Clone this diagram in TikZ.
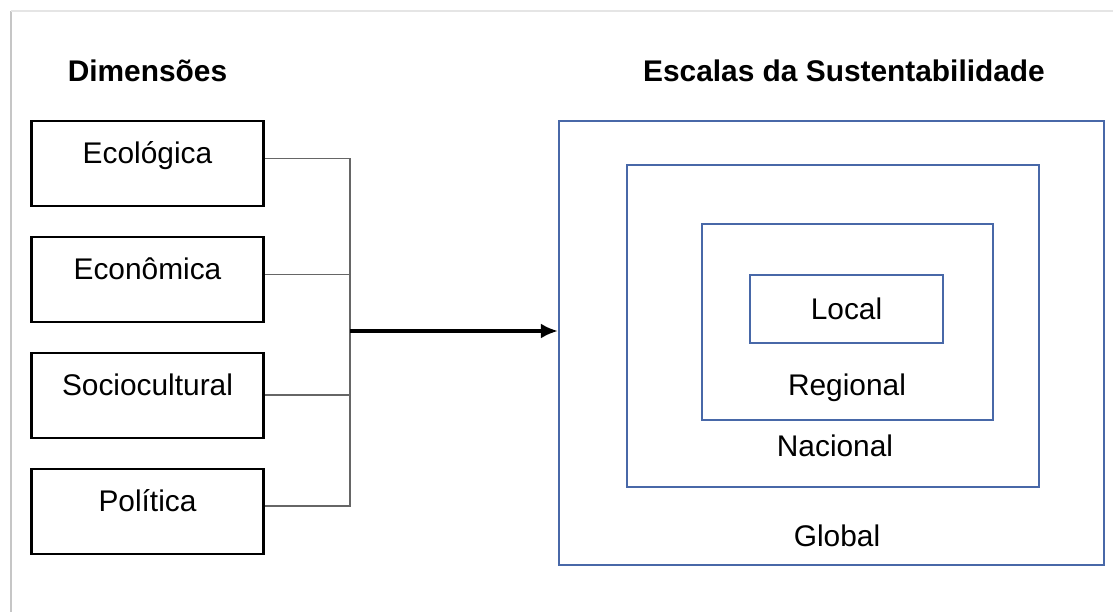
\documentclass[tikz,border=0pt]{standalone}
\usepackage{fontspec}
\setmainfont{Liberation Sans}
\usetikzlibrary{shapes, positioning, arrows.meta}
\definecolor{scaleblue}{RGB}{72,104,168}

\begin{document}
\begin{tikzpicture}[x=0.02cm, y=-0.02cm, semithick, node distance=2.32cm]
\tikzset{every node/.style={font=\fontsize{17}{20}\selectfont},
dim/.style={draw, rectangle, line width=1.6pt, minimum width=4.64cm, minimum height=1.7cm, text height=0.45cm, text depth=0.45cm},
title/.style={font=\fontsize{17}{20}\selectfont\bfseries},
esc/.style={draw=scaleblue, rectangle, line width=1.3pt, inner sep=0pt},
wire/.style={draw=black!60, line width=1.1pt},
feed/.style={draw=black, line width=1.9pt, -{Latex[length=0.34cm,width=0.3cm]}}}
\useasboundingbox (0,0) rectangle (1113,612);
% frame
\draw[gray!45, line width=1.2pt] (11,612) -- (11,11);
\draw[gray!20, line width=1.2pt] (11,11) -- (1113,11);
% dimensions
\node[title] (T1) at (147.5,70.5) {Dimensões};
\node[dim] (A) at (147.5,163.5) {Ecológica};
\node[dim] (B) [below of=A] {Econômica};
\node[dim] (C) [below of=B] {Sociocultural};
\node[dim] (D) [below of=C] {Política};
% scales
\node[title] (T2) at (844,70.5) {Escalas da Sustentabilidade};
\node[esc, minimum width=10.9cm, minimum height=8.88cm] (G) at (831.5,343) {};
\node[esc, minimum width=8.24cm, minimum height=6.44cm] (N) at (833,326) {};
\node[esc, minimum width=5.82cm, minimum height=3.92cm] (R) at (847.5,322) {};
\node[esc, minimum width=3.86cm, minimum height=1.36cm] (L) at (846.5,309) {Local};
\node (GG) at (837,536) {Global};
\node (NN) at (835,446) {Nacional};
\node (RR) at (847,388) {Regional};
% connectors
\coordinate (J) at (350,331);
\draw[wire] ([yshift=0.1cm]A.east) -| (J);
\draw[wire] ([yshift=0.1cm]D.east) -| (J);
\draw[wire] ([yshift=0.1cm]B.east) -- ([yshift=0.1cm]B.east -| J);
\draw[wire] (C.east) -- (C.east -| J);
\draw[feed] (J) -- (J -| G.west);
\end{tikzpicture}
\end{document}
